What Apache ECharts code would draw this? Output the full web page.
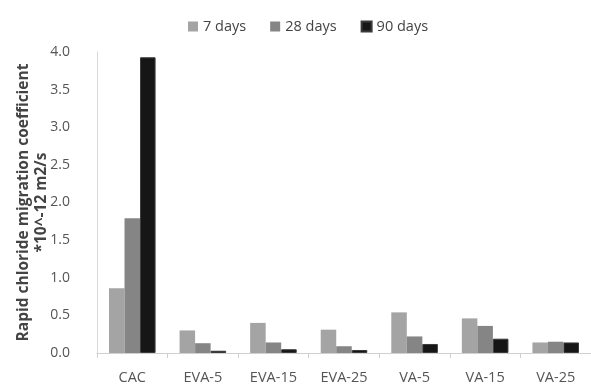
<!DOCTYPE html>
<html><head><meta charset="utf-8">
<script src="https://cdn.jsdelivr.net/npm/echarts@6/dist/echarts.min.js"></script>
<style>html,body{margin:0;padding:0;background:#fff}#c{width:591px;height:388px}</style>
</head><body><div id="c"></div>
<script>
const categories = ['CAC','EVA-5','EVA-15','EVA-25','VA-5','VA-15','VA-25'];
const days7  = [0.86, 0.30, 0.40, 0.31, 0.54, 0.46, 0.14];
const days28 = [1.79, 0.13, 0.14, 0.09, 0.22, 0.36, 0.15];
const days90 = [3.93, 0.03, 0.05, 0.04, 0.12, 0.19, 0.14];
const yTicks = {min: 0, max: 4, interval: 0.5};
const font = 'Open Sans, Liberation Sans, sans-serif';
const chart = echarts.init(document.getElementById('c'), null, {renderer:'canvas'});
chart.setOption({
  animation: false,
  backgroundColor: '#fff',
  legend: {
    left: 183, top: 14, itemWidth: 10, itemHeight: 10, itemGap: 24,
    icon: 'rect',
    textStyle: {fontFamily: font, fontSize: 14.5, color: '#444'},
    data: ['7 days','28 days','90 days']
  },
  grid: {left: 97, top: 52, width: 500, bottom: 35, containLabel: false},
  xAxis: {
    type: 'category', data: categories,
    axisLine: {lineStyle: {color: '#d0d0d0'}},
    axisTick: {show: true, length: 5, lineStyle: {color: '#d0d0d0'}},
    axisLabel: {fontFamily: font, fontSize: 14.5, color: '#555', margin: 17}
  },
  yAxis: {
    type: 'value', min: yTicks.min, max: yTicks.max, interval: yTicks.interval,
    name: 'Rapid chloride migration coefficient\n*10^-12 m2/s',
    nameLocation: 'middle', nameGap: 46, nameRotate: 90, nameMoveOverlap: false,
    nameTextStyle: {fontFamily: font, fontSize: 15.5, fontWeight: 'bold', color: '#444', lineHeight: 18},
    axisLine: {show: true, lineStyle: {color: '#d8d8d8'}},
    axisTick: {show: false},
    splitLine: {show: false},
    axisLabel: {fontFamily: font, fontSize: 14, color: '#555', margin: 27,
      formatter: v => v.toFixed(1)}
  },
  series: [
    {name: '7 days', type: 'bar', data: days7, barGap: '0%', barCategoryGap: '34%',
     itemStyle: {color: '#a4a4a4'}},
    {name: '28 days', type: 'bar', data: days28,
     itemStyle: {color: '#858585'}},
    {name: '90 days', type: 'bar', data: days90,
     itemStyle: {color: '#161616', borderColor: '#3a3a3a', borderWidth: 1}}
  ]
});
</script></body></html>
